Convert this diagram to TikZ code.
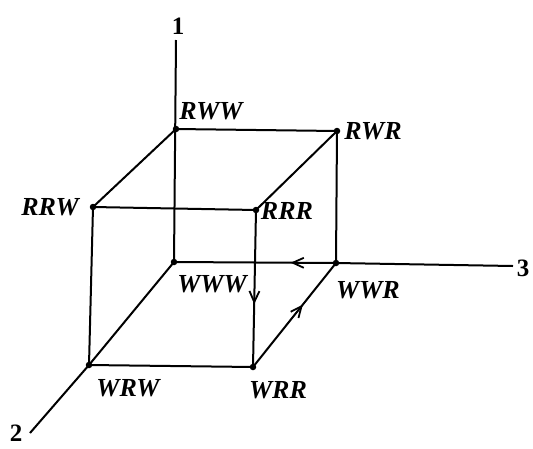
\documentclass[tikz,border=0pt]{standalone}
\usepackage{fontspec}
\setmainfont{Liberation Serif}
\usetikzlibrary{arrows.meta,decorations.markings}
\begin{document}
\begin{tikzpicture}[x=1pt,y=-1pt,
  edge/.style={line width=2pt},
  vtx/.style={circle,fill=black,inner sep=0pt,minimum size=6.5pt},
  lab/.style={font=\fontsize{26}{30}\selectfont\bfseries\itshape,inner sep=1pt},
  axlab/.style={font=\fontsize{25}{30}\selectfont\bfseries,inner sep=1pt},
  midarrow/.style={postaction={decorate,decoration={markings,
     mark=at position #1 with {\arrow{Straight Barb[length=11pt,width=10pt,line width=1.8pt]}}}}}
]
\useasboundingbox (0,0) rectangle (533,448);
% vertices
\node[vtx] (WWW) at (174,262) {};
\node[vtx] (RWW) at (176,129) {};
\node[vtx] (RWR) at (337,131) {};
\node[vtx] (WWR) at (336,263) {};
\node[vtx] (RRW) at (93,207) {};
\node[vtx] (RRR) at (256,210) {};
\node[vtx] (WRW) at (89,365) {};
\node[vtx] (WRR) at (253,367) {};
% axis ends
\coordinate (A1) at (176,40);
\coordinate (A2) at (30,433);
\coordinate (A3) at (513,266);
\node[axlab] (L1) at (178,26) {1};
\node[axlab] (L2) at (16,433) {2};
\node[axlab] (L3) at (523,268) {3};
% axes
\draw[edge] (WWW.center) -- (A1);
\draw[edge] (WRW.center) -- (A2);
\draw[edge] (WWR.center) -- (A3);
% cube edges
\draw[edge] (RWW.center) -- (RWR.center);
\draw[edge] (RWW.center) -- (RRW.center);
\draw[edge] (RWR.center) -- (RRR.center);
\draw[edge] (RRW.center) -- (RRR.center);
\draw[edge] (RRW.center) -- (WRW.center);
\draw[edge] (RWR.center) -- (WWR.center);
\draw[edge] (WWW.center) -- (WRW.center);
\draw[edge] (WRW.center) -- (WRR.center);
\draw[edge,midarrow=0.6] (RRR.center) -- (WRR.center);
\draw[edge,midarrow=0.6] (WRR.center) -- (WWR.center);
\draw[edge,midarrow=0.28] (WWR.center) -- (WWW.center);
% labels
\node[lab] at (211,111) {RWW};
\node[lab] at (373,131) {RWR};
\node[lab] at (50,207) {RRW};
\node[lab] at (287,211) {RRR};
\node[lab] at (212,284) {WWW};
\node[lab] at (368,290) {WWR};
\node[lab] at (128,388) {WRW};
\node[lab] at (278,390) {WRR};
\end{tikzpicture}
\end{document}
